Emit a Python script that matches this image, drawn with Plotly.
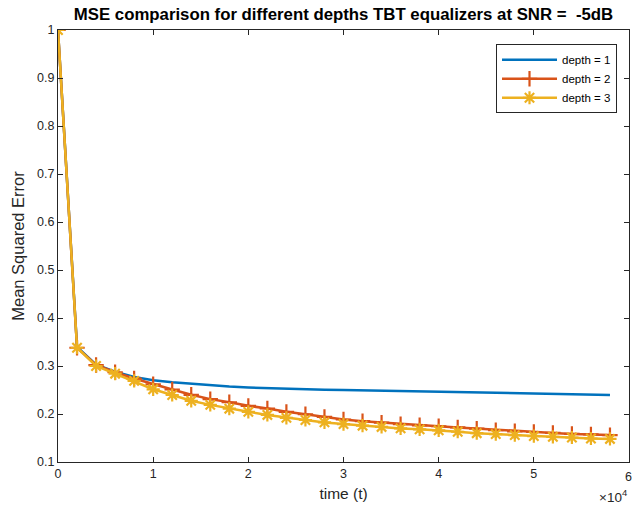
import plotly.graph_objects as go

t = [0, 2000, 4000, 6000, 8000, 10000, 12000, 14000, 16000, 18000, 20000, 22000, 24000,
     26000, 28000, 30000, 32000, 34000, 36000, 38000, 40000, 42000, 44000, 46000, 48000,
     50000, 52000, 54000, 56000, 58000]

mse_depth1 = [1.0, 0.340, 0.303, 0.288, 0.277, 0.2705, 0.2662, 0.2628, 0.2598, 0.2572, 0.2552,
              0.2537, 0.2525, 0.2515, 0.2505, 0.2498, 0.249, 0.2482, 0.2475, 0.2468, 0.246,
              0.2452, 0.2445, 0.2438, 0.2432, 0.2426, 0.242, 0.2413, 0.2405, 0.2398]
mse_depth2 = [1.0, 0.338, 0.302, 0.287, 0.274, 0.262, 0.251, 0.240, 0.231, 0.2245, 0.217,
              0.2115, 0.2045, 0.1995, 0.194, 0.1885, 0.185, 0.182, 0.179, 0.1765, 0.1745,
              0.172, 0.1695, 0.1665, 0.164, 0.1625, 0.1605, 0.1585, 0.1575, 0.156]
mse_depth3 = [1.0, 0.338, 0.300, 0.284, 0.269, 0.2515, 0.2396, 0.2275, 0.219, 0.211, 0.2045,
              0.198, 0.192, 0.1875, 0.1825, 0.179, 0.1756, 0.173, 0.170, 0.168, 0.166,
              0.163, 0.160, 0.158, 0.156, 0.154, 0.1525, 0.151, 0.149, 0.148]

names = ["depth = 1", "depth = 2", "depth = 3"]
x_tickvals = [0, 10000, 20000, 30000, 40000, 50000, 60000]
x_ticktext = ["0", "1", "2", "3", "4", "5", ""]
x_last_label = "6"
y_tickvals = [0.1, 0.2, 0.3, 0.4, 0.5, 0.6, 0.7, 0.8, 0.9, 1.0]
y_ticktext = ["0.1", "0.2", "0.3", "0.4", "0.5", "0.6", "0.7", "0.8", "0.9", "1"]

FONT = "Liberation Sans, Arial, sans-serif"
AX = "#262626"

fig = go.Figure()
fig.add_trace(go.Scatter(x=t, y=mse_depth1, name=names[0], mode="lines",
                         line=dict(color="#0072BD", width=2.5)))
fig.add_trace(go.Scatter(x=t, y=mse_depth2, name=names[1], mode="lines+markers",
                         line=dict(color="#D95319", width=2.5),
                         marker=dict(symbol="cross-thin-open", size=11,
                                     line=dict(color="#D95319", width=2.2))))
fig.add_trace(go.Scatter(x=t, y=mse_depth3, name=names[2], mode="lines+markers",
                         line=dict(color="#EDB120", width=2.5),
                         marker=dict(symbol="asterisk-open", size=11,
                                     line=dict(color="#EDB120", width=2.2))))

fig.update_layout(
    width=632, height=509,
    margin=dict(l=58, r=3, t=30, b=47),
    paper_bgcolor="white", plot_bgcolor="white",
    font=dict(family=FONT, color=AX, size=12),
    title=dict(text="<b>MSE comparison for different depths TBT equalizers at SNR =  -5dB</b>",
               x=(58 + 629) / 2 / 632, xanchor="center", y=1 - 14 / 509, yanchor="middle",
               font=dict(size=16.8, color="black", family=FONT)),
    legend=dict(x=0.979, xanchor="right", y=0.967, yanchor="top",
                bordercolor=AX, borderwidth=1, bgcolor="white",
                font=dict(size=11.5, color="black"), itemwidth=55,
                tracegroupgap=0),
    showlegend=True,
)
fig.update_xaxes(range=[0, 60000], tickvals=x_tickvals, ticktext=x_ticktext,
                 ticks="inside", ticklen=5, tickcolor=AX, showline=True, linecolor=AX,
                 linewidth=1, mirror="ticks", showgrid=False, zeroline=False,
                 tickfont=dict(size=12.5, color=AX),
                 title=dict(text="time (t)", font=dict(size=15.5, color=AX), standoff=8))
fig.update_yaxes(range=[0.1, 1.0], tickvals=y_tickvals, ticktext=y_ticktext,
                 ticks="inside", ticklen=5, tickcolor=AX, showline=True, linecolor=AX,
                 linewidth=1, mirror="ticks", showgrid=False, zeroline=False,
                 tickfont=dict(size=12.5, color=AX),
                 title=dict(text="Mean Squared Error", font=dict(size=16.5, color=AX), standoff=8))

fig.add_annotation(text=x_last_label, xref="x", yref="paper",
                   x=x_tickvals[-1], y=(462 - 477) / 432, xanchor="center", yanchor="middle",
                   xshift=-1, showarrow=False, font=dict(size=12.5, color=AX, family=FONT))
fig.add_annotation(text="×10<sup>4</sup>", xref="paper", yref="paper",
                   x=1.0, y=(462 - 496) / 432, xanchor="right", yanchor="middle",
                   showarrow=False, font=dict(size=13.5, color=AX, family=FONT))

fig.write_html("out.html")
